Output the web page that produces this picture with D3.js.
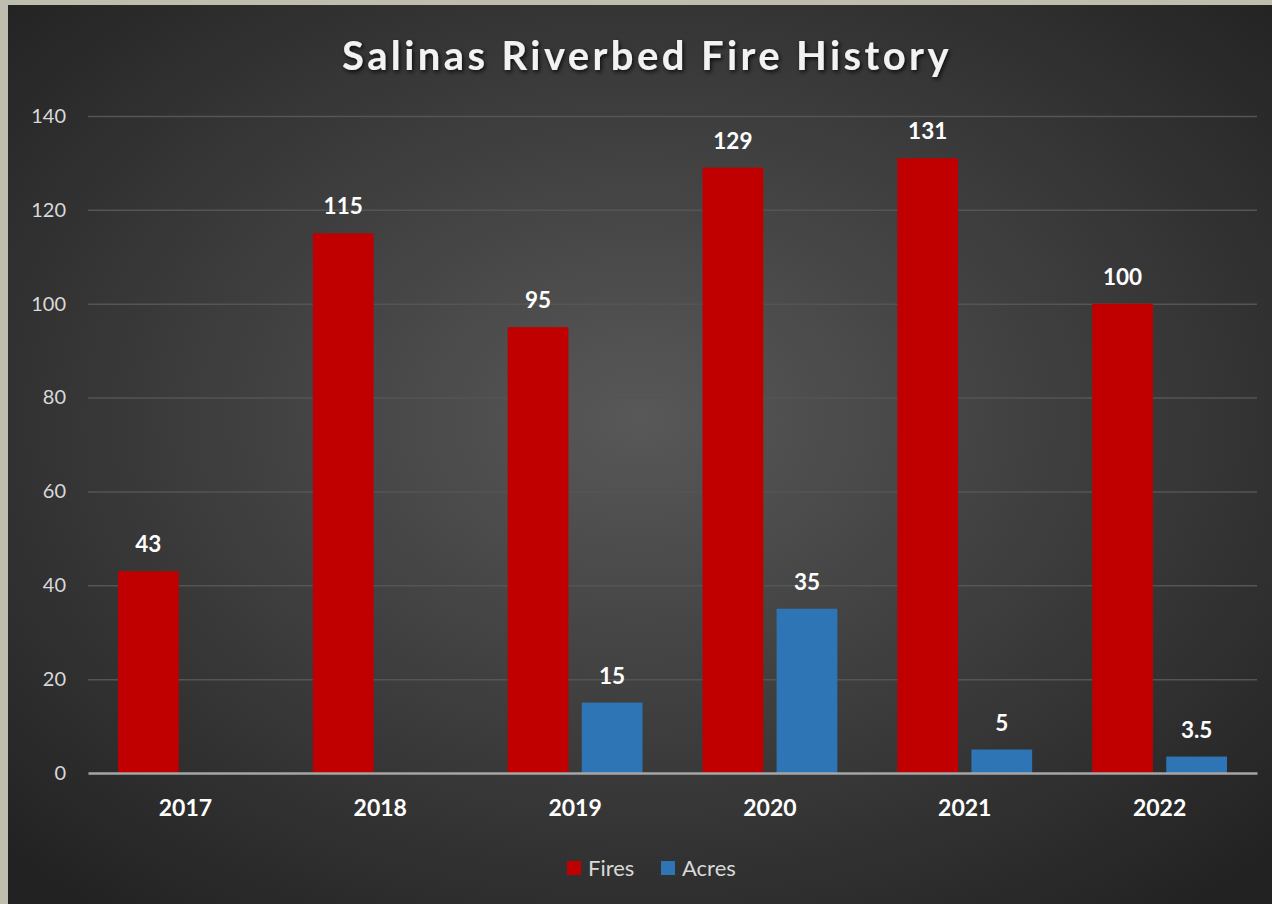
<!DOCTYPE html>
<html><head><meta charset="utf-8">
<script src="https://cdn.jsdelivr.net/npm/d3@7"></script>
<style>html,body{margin:0;padding:0;background:#bfbeae;overflow:hidden}</style>
</head><body>
<svg id="c" width="1272" height="904"></svg>
<script>
const categories = ["2017","2018","2019","2020","2021","2022"];
const fires = [43,115,95,129,131,100];
const acres = [null,null,15,35,5,3.5];
const yTicks = [0,20,40,60,80,100,120,140];
const seriesNames = ["Fires","Acres"];
const seriesColors = ["#c00000","#2e75b6"];

const svg = d3.select("#c");
const defs = svg.append("defs");
const rg = defs.append("radialGradient").attr("id","bg").attr("cx","50%").attr("cy","46%").attr("r","70%");
rg.append("stop").attr("offset","0%").attr("stop-color","#585858");
rg.append("stop").attr("offset","100%").attr("stop-color","#222222");
const f = defs.append("filter").attr("id","sh").attr("x","-10%").attr("y","-30%").attr("width","120%").attr("height","160%");
f.append("feDropShadow").attr("dx",1.5).attr("dy",2).attr("stdDeviation",2).attr("flood-color","#000").attr("flood-opacity",0.8);

svg.append("rect").attr("x",0).attr("y",0).attr("width",1272).attr("height",904).attr("fill","#bfbeae");
svg.append("rect").attr("x",8).attr("y",5).attr("width",1264).attr("height",899).attr("fill","url(#bg)");

const font = "Lato, 'Open Sans', sans-serif";
const x0 = d3.scaleBand().domain(categories).range([88,1257]).paddingInner(0).paddingOuter(0);
const x1 = d3.scaleBand().domain(seriesNames).range([30, x0.bandwidth()-30]).paddingInner(0.18);
const y = d3.scaleLinear().domain([0,140]).range([773,116]);

// gridlines
const yAxis = d3.axisLeft(y).tickValues(yTicks).tickSize(-(1257-88)).tickPadding(22);
const ga = svg.append("g").attr("transform","translate(88,0)").call(yAxis);
ga.select(".domain").remove();
ga.selectAll(".tick line").attr("stroke","#555555").attr("stroke-width",1.5);
ga.selectAll(".tick text").attr("fill","#d9d9d9").attr("font-size",20).attr("font-family",font);
ga.selectAll(".tick").filter(d=>d===0).select("line").remove();

// bars
const groups = svg.append("g").selectAll("g").data(categories).join("g")
  .attr("transform",d=>`translate(${x0(d)},0)`);
const data = categories.map((c,i)=>[{s:"Fires",v:fires[i]},{s:"Acres",v:acres[i]}]);
groups.each(function(c,i){
  const g = d3.select(this);
  data[i].filter(d=>d.v!=null).forEach((d,k)=>{
    const si = seriesNames.indexOf(d.s);
    g.append("rect").attr("x",x1(d.s)).attr("width",x1.bandwidth())
      .attr("y",y(d.v)).attr("height",y(0)-y(d.v)).attr("fill",seriesColors[si]);
    g.append("text").attr("x",x1(d.s)+x1.bandwidth()/2).attr("y",y(d.v)-19)
      .attr("text-anchor","middle").attr("fill","#ffffff").attr("font-weight","bold")
      .attr("font-size",22.5).attr("font-family",font).text(d.v);
  });
});

// x axis
const xAxis = d3.axisBottom(x0).tickSize(0).tickPadding(25);
const gx = svg.append("g").attr("transform","translate(0,773)").call(xAxis);
gx.select(".domain").attr("stroke","#a6a6a6").attr("stroke-width",2.5);
gx.selectAll(".tick text").attr("fill","#ffffff").attr("font-weight","bold").attr("font-size",23).attr("font-family",font).attr("dy","0.8em");

// title
svg.append("text").attr("x",647).attr("y",70).attr("text-anchor","middle")
  .attr("fill","#f2f2f2").attr("font-weight","bold").attr("font-size",40)
  .attr("letter-spacing",3.4).attr("font-family",font).attr("filter","url(#sh)")
  .text("Salinas Riverbed Fire History");

// legend
const legX = [567,661];
seriesNames.forEach((n,i)=>{
  svg.append("rect").attr("x",legX[i]).attr("y",861).attr("width",14).attr("height",14).attr("fill",seriesColors[i]);
  svg.append("text").attr("x",legX[i]+21).attr("y",876).attr("fill","#d9d9d9")
    .attr("font-size",22).attr("font-family",font).text(n);
});
</script>
</body></html>
